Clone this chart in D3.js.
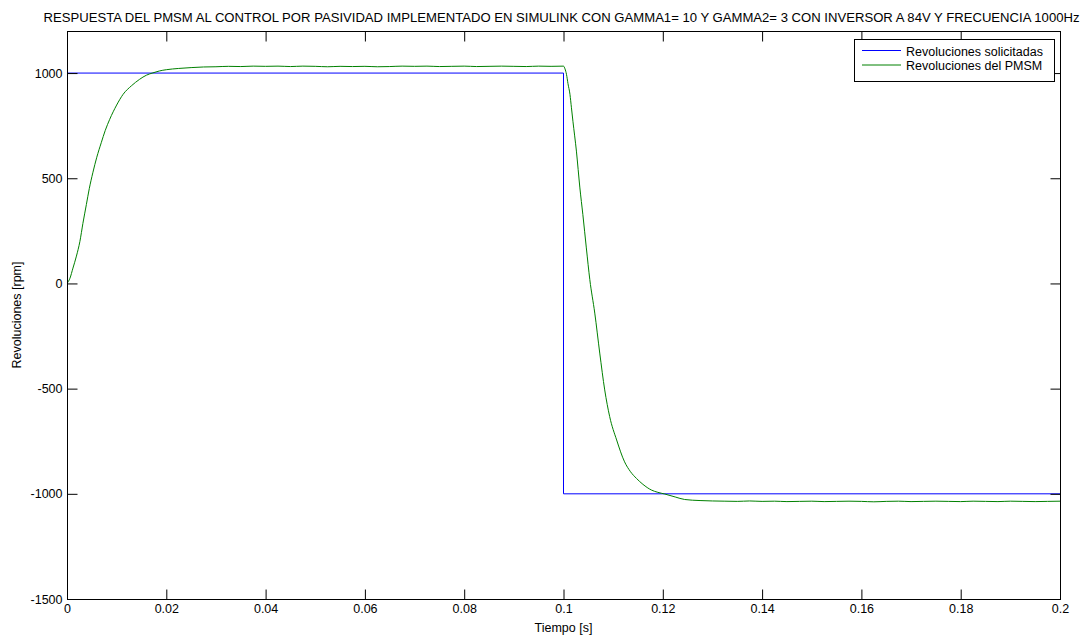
<!DOCTYPE html>
<html>
<head>
<meta charset="utf-8">
<script src="https://cdn.jsdelivr.net/npm/d3@7"></script>
<style>
  html, body { margin: 0; padding: 0; background: #ffffff; }
  svg { display: block; }
  text { font-family: "Liberation Sans", Arial, Helvetica, sans-serif; fill: #000; }
</style>
</head>
<body>
<svg id="chart" width="1084" height="637"></svg>
<script>
// Time samples (s) of the motor speed trace
const timeSamples = [
  0, 0.0006, 0.0012, 0.0019, 0.0026, 0.0032, 0.0039, 0.0045, 0.0052, 0.0060,
  0.0069, 0.0077, 0.0086, 0.0100, 0.0113, 0.0130, 0.0146, 0.0160, 0.0173, 0.0186,
  0.0200, 0.0225, 0.0250, 0.0275, 0.0300, 0.0325, 0.0350, 0.0375, 0.0400, 0.0425,
  0.0450, 0.0475, 0.0500, 0.0525, 0.0550, 0.0575, 0.0600, 0.0625, 0.0650, 0.0675,
  0.0700, 0.0725, 0.0750, 0.0775, 0.0800, 0.0825, 0.0850, 0.0875, 0.0900, 0.0925,
  0.0950, 0.0975, 0.1000, 0.1003, 0.1006, 0.1009, 0.1013, 0.1016, 0.1019, 0.1026,
  0.1033, 0.1039, 0.1046, 0.1053, 0.1063, 0.1073, 0.1083, 0.1093, 0.1107, 0.1123,
  0.1135, 0.1147, 0.1160, 0.1177, 0.1190, 0.1204, 0.1225, 0.1244, 0.1275, 0.1300,
  0.1325, 0.1350, 0.1375, 0.1400, 0.1425, 0.1450, 0.1475, 0.1500, 0.1525, 0.1550,
  0.1575, 0.1600, 0.1625, 0.1650, 0.1675, 0.1700, 0.1725, 0.1750, 0.1775, 0.1800,
  0.1825, 0.1850, 0.1875, 0.1900, 0.1925, 0.1950, 0.1975, 0.2000
];
// Measured PMSM speed (rpm)
const pmsmSpeed = [
  0, 25, 73, 130, 200, 285, 375, 452, 526, 600,
  669, 727, 780, 848, 899, 940, 970, 990, 1001, 1010,
  1016, 1022, 1026, 1029, 1030, 1032, 1031, 1033, 1032, 1033,
  1031, 1033, 1032, 1030, 1032, 1031, 1032, 1030, 1031, 1033,
  1032, 1033, 1031, 1032, 1033, 1031, 1032, 1033, 1032, 1031,
  1033, 1032, 1033, 1020, 994, 950, 899, 835, 771, 629,
  454, 327, 169, 18, -141, -331, -506, -633, -744, -848,
  -895, -927, -955, -982, -993, -1001, -1015, -1027, -1032, -1034,
  -1035, -1036, -1034, -1036, -1035, -1037, -1036, -1035, -1037, -1036,
  -1035, -1036, -1038, -1036, -1035, -1037, -1036, -1035, -1036, -1037,
  -1035, -1036, -1037, -1035, -1036, -1037, -1036, -1035
];
// Speed reference (rpm): step from +1000 to -1000 at t = 0.1 s
const refTime  = [0, 0.1, 0.1, 0.2];
const refSpeed = [1000, 1000, -1000, -1000];

const xTicks = [0, 0.02, 0.04, 0.06, 0.08, 0.1, 0.12, 0.14, 0.16, 0.18, 0.2];
const xTickLabels = ["0", "0.02", "0.04", "0.06", "0.08", "0.1", "0.12", "0.14", "0.16", "0.18", "0.2"];
const yTicks = [-1500, -1000, -500, 0, 500, 1000];
const yTickLabels = ["-1500", "-1000", "-500", "0", "500", "1000"];

const seriesNames = ["Revoluciones solicitadas", "Revoluciones del PMSM"];
const seriesColors = ["#0000ff", "#008000"];

const titleText = "RESPUESTA DEL PMSM AL CONTROL POR PASIVIDAD IMPLEMENTADO EN SIMULINK CON GAMMA1= 10 Y GAMMA2= 3 CON INVERSOR A 84V Y FRECUENCIA 1000Hz";
const xLabelText = "Tiempo [s]";
const yLabelText = "Revoluciones [rpm]";

// Layout
const svg = d3.select("#chart");
const plotLeft = 67, plotRight = 1060, plotTop = 31, plotBottom = 599;
const x = d3.scaleLinear().domain([0, 0.2]).range([plotLeft, plotRight]);
const y = d3.scaleLinear().domain([-1500, 1200]).range([plotBottom, plotTop]);
const tickLen = 10;

// Data lines (clipped to plot area)
svg.append("clipPath").attr("id", "plotClip")
  .append("rect").attr("x", plotLeft).attr("y", plotTop)
  .attr("width", plotRight - plotLeft).attr("height", plotBottom - plotTop);

const line = d3.line().x(d => x(d[0])).y(d => y(d[1]));
const smoothLine = d3.line().curve(d3.curveMonotoneX).x(d => x(d[0])).y(d => y(d[1]));
const refData = refTime.map((t, i) => [t, refSpeed[i]]);
const pmsmData = timeSamples.map((t, i) => [t, pmsmSpeed[i]]);

const plot = svg.append("g").attr("clip-path", "url(#plotClip)");
plot.append("path").datum(refData).attr("d", line)
  .attr("fill", "none").attr("stroke", seriesColors[0]).attr("stroke-width", 1);
plot.append("path").datum(pmsmData).attr("d", smoothLine)
  .attr("fill", "none").attr("stroke", seriesColors[1]).attr("stroke-width", 1);

// Axes with inward ticks on all four sides
function styleAxis(g) {
  g.select(".domain").remove();
  g.selectAll(".tick line").attr("stroke", "#000").attr("stroke-width", 1);
  g.selectAll(".tick text").style("font-size", "12.5px")
    .style("font-family", "Liberation Sans, Arial, sans-serif").attr("fill", "#000");
}

const xBottom = d3.axisBottom(x).tickValues(xTicks)
  .tickFormat((d, i) => xTickLabels[i]).tickSizeInner(-tickLen).tickSizeOuter(0).tickPadding(5);
svg.append("g").attr("transform", `translate(0,${plotBottom + 0.5})`).call(xBottom).call(styleAxis);

const xTop = d3.axisTop(x).tickValues(xTicks).tickFormat("").tickSizeInner(-tickLen).tickSizeOuter(0);
svg.append("g").attr("transform", `translate(0,${plotTop + 0.5})`).call(xTop).call(styleAxis);

const yLeft = d3.axisLeft(y).tickValues(yTicks)
  .tickFormat((d, i) => yTickLabels[i]).tickSizeInner(-tickLen).tickSizeOuter(0).tickPadding(5);
svg.append("g").attr("transform", `translate(${plotLeft + 0.5},0)`).call(yLeft).call(styleAxis);

const yRight = d3.axisRight(y).tickValues(yTicks).tickFormat("").tickSizeInner(-tickLen).tickSizeOuter(0);
svg.append("g").attr("transform", `translate(${plotRight + 0.5},0)`).call(yRight).call(styleAxis);

// Plot frame
svg.append("rect").attr("x", plotLeft + 0.5).attr("y", plotTop + 0.5)
  .attr("width", plotRight - plotLeft).attr("height", plotBottom - plotTop)
  .attr("fill", "none").attr("stroke", "#000").attr("stroke-width", 1);

// Title and axis labels
svg.append("text").attr("x", 561.5).attr("y", 21.5).attr("text-anchor", "middle")
  .style("font-size", "12.5px").attr("textLength", 1036).attr("lengthAdjust", "spacingAndGlyphs")
  .text(titleText);
svg.append("text").attr("x", (plotLeft + plotRight) / 2).attr("y", 632).attr("text-anchor", "middle")
  .style("font-size", "12.5px").text(xLabelText);
svg.append("text").attr("transform", `translate(20.5,${(plotTop + plotBottom) / 2}) rotate(-90)`)
  .attr("text-anchor", "middle").style("font-size", "12.5px").text(yLabelText);

// Legend
const legend = svg.append("g");
legend.append("rect").attr("x", 854.5).attr("y", 39.5).attr("width", 200).attr("height", 42)
  .attr("fill", "#fff").attr("stroke", "#000").attr("stroke-width", 1);
seriesNames.forEach((name, i) => {
  const ly = 50.5 + i * 14.5;
  legend.append("line").attr("x1", 862).attr("x2", 901).attr("y1", ly).attr("y2", ly)
    .attr("stroke", seriesColors[i]).attr("stroke-width", 1);
  legend.append("text").attr("x", 906).attr("y", ly + 5).style("font-size", "12.5px").text(name);
});
</script>
</body>
</html>
